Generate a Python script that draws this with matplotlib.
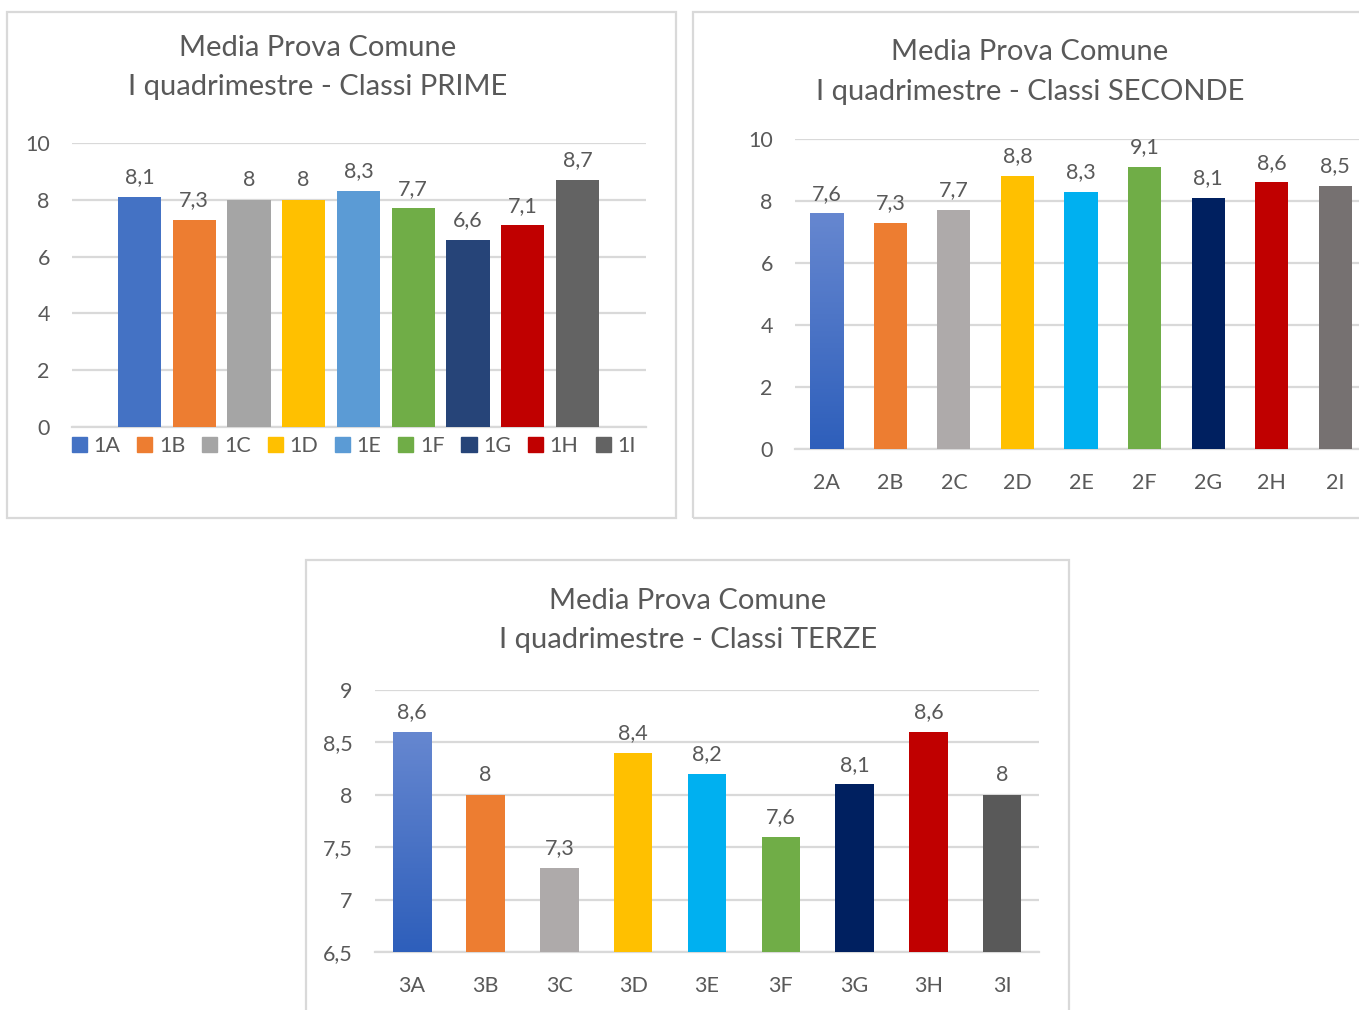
import matplotlib.pyplot as plt
import matplotlib.patches as mpatches
import numpy as np
from matplotlib.colors import LinearSegmentedColormap

# data
classi_prime = ["1A", "1B", "1C", "1D", "1E", "1F", "1G", "1H", "1I"]
medie_prime = [8.1, 7.3, 8.0, 8.0, 8.3, 7.7, 6.6, 7.1, 8.7]
colori_prime = ["#4472C4", "#ED7D31", "#A5A5A5", "#FFC000", "#5B9BD5",
                "#70AD47", "#264478", "#C00000", "#636363"]

classi_seconde = ["2A", "2B", "2C", "2D", "2E", "2F", "2G", "2H", "2I"]
medie_seconde = [7.6, 7.3, 7.7, 8.8, 8.3, 9.1, 8.1, 8.6, 8.5]
colori_seconde = ["#4472C4", "#ED7D31", "#AEAAAA", "#FFC000", "#00B0F0",
                  "#70AD47", "#002060", "#C00000", "#767171"]

classi_terze = ["3A", "3B", "3C", "3D", "3E", "3F", "3G", "3H", "3I"]
medie_terze = [8.6, 8.0, 7.3, 8.4, 8.2, 7.6, 8.1, 8.6, 8.0]
colori_terze = ["#4472C4", "#ED7D31", "#AEAAAA", "#FFC000", "#00B0F0",
                "#70AD47", "#002060", "#C00000", "#595959"]

TXT = "#595959"
GRID = "#D9D9D9"
FONT = "Lato"
W, H = 1359, 1010
FS_TITLE = 21
FS = 15.5

plt.rcParams['font.family'] = [FONT, 'DejaVu Sans']
fig = plt.figure(figsize=(W / 100, H / 100), dpi=100)


def fx(px):
    return px / W


def fy(py):
    return 1 - py / H


def make_ax(left, right, top, bottom):
    return fig.add_axes([fx(left), fy(bottom), fx(right) - fx(left), fy(top) - fy(bottom)])


def fmt(v):
    s = f"{v:g}"
    return s.replace(".", ",")


def gradient_bar(ax, bar):
    # blue bar lighter on top, darker at bottom
    cmap = LinearSegmentedColormap.from_list("g", ["#2E5FBB", "#6687D0"])
    x0, y0 = bar.get_x(), bar.get_y()
    w, h = bar.get_width(), bar.get_height()
    grad = np.linspace(0, 1, 100).reshape(-1, 1)
    im = ax.imshow(grad, cmap=cmap, origin="lower", aspect="auto",
                   extent=[x0, x0 + w, y0, y0 + h], zorder=3)
    im.set_clip_path(bar)


def draw_panel(ax, labels, values, colors, ylim, yticks, width, xlim=None,
               gradient=False, show_x=True):
    x = np.arange(len(labels))
    bars = ax.bar(x, [v - ylim[0] for v in values], bottom=ylim[0], width=width,
                  color=colors, zorder=3)
    if gradient:
        gradient_bar(ax, bars[0])
    for xi, v in zip(x, values):
        ax.annotate(fmt(v), (xi, v), xytext=(0, 7), textcoords="offset points",
                    ha="center", va="bottom", fontsize=FS, color=TXT)
    if xlim is None:
        xlim = (-0.5, len(labels) - 0.5)
    ax.set_xlim(*xlim)
    ax.set_ylim(*ylim)
    ax.set_yticks(yticks)
    ax.set_yticklabels([fmt(t) for t in yticks])
    ax.yaxis.grid(True, color=GRID, linewidth=1.6, zorder=0)
    ax.set_axisbelow(True)
    for s in ["top", "right", "left"]:
        ax.spines[s].set_visible(False)
    ax.spines["bottom"].set_color(GRID)
    ax.spines["bottom"].set_linewidth(1.6)
    ax.tick_params(axis="y", length=0, pad=16, labelsize=FS, labelcolor=TXT)
    if show_x:
        ax.set_xticks(x)
        ax.set_xticklabels(labels)
        ax.tick_params(axis="x", length=0, pad=17, labelsize=FS, labelcolor=TXT)
    else:
        ax.set_xticks([])
    ax.patch.set_alpha(0)
    return bars


# panel borders
for (l, t, r, b) in [(7, 12, 676, 518), (693, 12, 1372, 518), (306, 560, 1069, 1020)]:
    fig.patches.append(mpatches.Rectangle((fx(l), fy(b)), fx(r) - fx(l), fy(t) - fy(b),
                                          transform=fig.transFigure, fill=False,
                                          edgecolor=GRID, linewidth=1.6))

# Classi PRIME
ax1 = make_ax(72, 646, 143, 427)
draw_panel(ax1, classi_prime, medie_prime, colori_prime, (0, 10),
           [0, 2, 4, 6, 8, 10], 0.79, xlim=(-1.23, 9.25), show_x=False)
fig.text(fx(318), fy(48), "Media Prova Comune", ha="center", va="center", fontsize=FS_TITLE, color=TXT)
fig.text(fx(318), fy(87), "I quadrimestre - Classi PRIME", ha="center", va="center", fontsize=FS_TITLE, color=TXT)
handles = [mpatches.Patch(color=c) for c in colori_prime]
ax1.legend(handles, classi_prime, ncol=9, loc="upper left", bbox_to_anchor=(-0.015, -0.003),
           frameon=False, fontsize=FS, handlelength=0.7, handleheight=0.7,
           handletextpad=0.3, columnspacing=0.79, labelcolor=TXT, borderaxespad=0)

# Classi SECONDE
ax2 = make_ax(795, 1367, 139, 449)
draw_panel(ax2, classi_seconde, medie_seconde, colori_seconde, (0, 10),
           [0, 2, 4, 6, 8, 10], 0.52, gradient=True)
fig.text(fx(1030), fy(52), "Media Prova Comune", ha="center", va="center", fontsize=FS_TITLE, color=TXT)
fig.text(fx(1030), fy(92), "I quadrimestre - Classi SECONDE", ha="center", va="center", fontsize=FS_TITLE, color=TXT)

# Classi TERZE
ax3 = make_ax(375, 1039, 690, 952)
draw_panel(ax3, classi_terze, medie_terze, colori_terze, (6.5, 9),
           [6.5, 7, 7.5, 8, 8.5, 9], 0.52, gradient=True)
fig.text(fx(688), fy(601), "Media Prova Comune", ha="center", va="center", fontsize=FS_TITLE, color=TXT)
fig.text(fx(688), fy(640), "I quadrimestre - Classi TERZE", ha="center", va="center", fontsize=FS_TITLE, color=TXT)

plt.savefig("out.png", dpi=100)
